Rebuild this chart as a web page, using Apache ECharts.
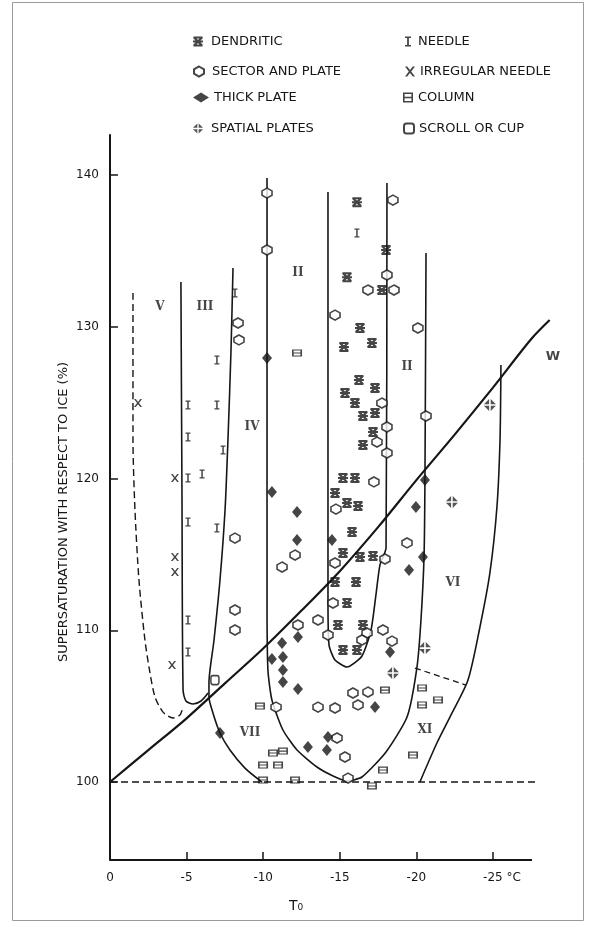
<!DOCTYPE html>
<html><head><meta charset="utf-8">
<script src="https://cdn.jsdelivr.net/npm/echarts@6/dist/echarts.min.js"></script>
<style>html,body{margin:0;padding:0;background:#fff}#c{width:595px;height:927px}</style>
</head><body><div id="c"></div>
<script>
// ---- tick values ----
const xTicks = [0, -5, -10, -15, -20, -25];
const yTicks = [100, 110, 120, 130, 140];
const xAxisEnd = -27.55;   // where the drawn temperature axis stops
const yAxisMin = 94.86;

// ---- observations [temperature °C, supersaturation %] ----
const dendritic = [[-16.12,138.22],[-18.02,135.07],[-15.47,133.28],[-17.75,132.43],[-16.32,129.93],[-17.10,128.94],[-15.27,128.68],[-16.25,126.50],[-17.30,125.97],[-15.34,125.64],[-15.99,124.98],[-16.51,124.13],[-17.30,124.32],[-17.17,123.07],[-16.51,122.22],[-15.21,120.04],[-15.99,120.04],[-14.69,119.05],[-15.47,118.39],[-16.19,118.19],[-15.80,116.48],[-15.21,115.10],[-16.32,114.83],[-17.17,114.90],[-14.69,113.18],[-16.06,113.18],[-15.47,111.80],[-14.88,110.35],[-16.51,110.35],[-15.21,108.70],[-16.12,108.70]];
const sectorPlate = [[-10.25,138.82],[-10.25,135.07],[-18.47,138.36],[-18.08,133.42],[-16.84,132.43],[-18.54,132.43],[-14.69,130.78],[-20.10,129.93],[-20.63,124.13],[-17.75,124.98],[-18.08,123.40],[-17.43,122.41],[-18.08,121.69],[-17.23,119.78],[-14.75,117.99],[-8.36,130.26],[-8.42,129.14],[-8.16,116.08],[-8.16,111.34],[-8.16,110.02],[-19.39,115.76],[-17.95,114.70],[-12.08,114.96],[-11.23,114.17],[-14.69,114.44],[-14.56,111.80],[-13.58,110.68],[-12.27,110.35],[-14.23,109.69],[-16.78,109.82],[-16.45,109.36],[-17.82,110.02],[-18.41,109.29],[-15.86,105.87],[-16.84,105.93],[-16.19,105.08],[-13.58,104.94],[-14.69,104.88],[-10.84,104.94],[-14.82,102.90],[-15.34,101.65],[-15.54,100.26]];
const thickPlate = [[-10.25,127.95],[-10.57,119.12],[-12.21,117.80],[-20.56,119.91],[-19.97,118.13],[-12.21,115.95],[-14.49,115.95],[-20.43,114.83],[-19.52,113.98],[-12.27,109.56],[-11.23,109.16],[-10.57,108.11],[-11.29,108.24],[-11.29,107.38],[-11.29,106.59],[-18.28,108.57],[-12.27,106.13],[-17.30,104.94],[-14.23,102.97],[-12.92,102.31],[-14.16,102.11],[-7.18,103.23]];
const spatialPlates = [[-22.32,118.46],[-24.80,124.85],[-20.56,108.83],[-18.47,107.19]];
const needle = [[-8.16,132.23],[-6.98,127.82],[-5.09,124.85],[-6.98,124.85],[-5.09,122.74],[-7.38,121.89],[-5.09,120.04],[-6.01,120.30],[-5.09,117.14],[-6.98,116.74],[-5.09,110.68],[-5.09,108.57],[-16.12,136.19]];
const irregularNeedle = [[-1.83,124.98],[-4.24,120.04],[-4.24,114.83],[-4.24,113.84],[-4.05,107.71]];
const column = [[-12.21,128.28],[-9.79,105.01],[-17.95,106.06],[-20.37,106.20],[-20.37,105.08],[-21.41,105.41],[-10.64,101.91],[-11.29,102.04],[-9.99,101.12],[-10.97,101.12],[-19.78,101.78],[-17.82,100.79],[-9.99,100.13],[-12.08,100.13],[-17.10,99.74]];
const scrollCup = [[-6.85,106.72]];

// ---- boundary curves ----
const waterSat = [[0,100],[-2.5,102.1],[-5,104.2],[-7.5,106.5],[-10,108.8],[-12.5,111.3],[-15,113.9],[-17.5,116.8],[-20,119.9],[-22.5,122.9],[-25,126.0],[-27.5,129.2],[-28.7,130.45]];
const iceSat = [[0,100],[-27.9,100]];
const curveA = [[-1.50,132.23],[-1.50,122.54],[-1.63,117.93],[-1.89,113.32],[-2.28,109.36],[-2.61,107.19],[-2.94,105.60],[-3.46,104.61],[-4.11,104.22],[-4.57,104.42],[-4.77,104.94]];
const curveB = [[-4.63,132.96],[-4.70,118.59],[-4.77,106.06],[-4.96,105.34],[-5.42,105.14],[-5.94,105.34],[-6.40,105.87]];
const curveC = [[-8.03,133.88],[-7.90,128.48],[-7.70,122.54],[-7.51,117.93],[-7.18,113.32],[-6.79,109.36],[-6.46,106.53],[-6.46,105.60],[-6.72,104.55],[-7.18,103.23],[-7.83,102.11],[-8.81,100.92],[-9.92,100]];
const curveD = [[-10.25,139.82],[-10.25,112.0],[-10.31,107.38],[-10.57,105.41],[-11.29,103.43],[-12.21,102.11],[-13.51,100.99],[-14.56,100.40],[-15.47,100.07],[-16.45,100.33],[-18.02,101.98],[-19.39,104.28],[-20.04,107.58],[-20.30,110.68],[-20.50,114.83],[-20.56,119.91],[-20.63,134.87]];
const curveE = [[-14.23,138.89],[-14.23,112.0],[-14.30,109.03],[-14.69,108.04],[-15.47,107.58],[-16.45,108.31],[-17.04,110.02],[-17.36,112.33],[-17.62,114.30],[-18.02,115.43],[-18.08,139.49]];
const curveF = [[-25.52,127.49],[-25.46,122.54],[-25.26,118.13],[-24.80,113.78],[-24.15,110.22],[-23.37,106.72],[-22.19,104.28],[-21.34,102.57],[-20.23,100]];
const curveG = [[-19.91,107.51],[-23.24,106.39]];

// ---- region labels ----
const regionNames = ['V','III','IV','II','II','VI','VII','XI'];
const regionPos = [[-3.26,131.31],[-6.20,131.31],[-9.27,123.40],[-12.27,133.55],[-19.39,127.36],[-22.39,113.12],[-9.14,103.23],[-20.56,103.43]];
const curveLabel = ['W'];
const curveLabelPos = [[-28.92,128.02]];

const FONT = 'DejaVu Sans';
const INK = '#161616';

const SYM = {
  star: 'path://M0.5,0H9.5V2H0.5Z M0.5,8H9.5V10H0.5Z M0,4H10V6H0Z M0,1.6L1.6,0L10,8.4L8.4,10Z M8.4,0L10,1.6L1.6,10L0,8.4Z',
  hex: 'path://M5,0L10,2.8L10,7.2L5,10L0,7.2L0,2.8Z',
  spatial: 'path://M4.4,0.6L4.4,4.4L0.6,4.4Z M5.6,0.6L9.4,4.4L5.6,4.4Z M0.6,5.6L4.4,5.6L4.4,9.4Z M5.6,5.6L9.4,5.6L5.6,9.4Z',
  needle: 'path://M2,0H8V1.4H5.9V8.6H8V10H2V8.6H4.1V1.4H2Z',
  xmark: 'path://M0,0H2.2L5,3.6L7.8,0H10L6.2,5L10,10H7.8L5,6.4L2.2,10H0L3.8,5Z',
  column: 'path://M0,0H10V1.6H0Z M0,4.2H10V5.8H0Z M0,8.4H10V10H0Z M0,0H1.6V10H0Z M8.4,0H10V10H8.4Z'
};

function pts(name, data, symbol, size, style) {
  return { name, type: 'scatter', data, symbol, symbolSize: size, itemStyle: style, z: 5, silent: true };
}
function curve(name, data, opts) {
  return Object.assign({ name, type: 'line', data, symbol: 'none', smooth: 0.25, silent: true, z: 3,
    lineStyle: { color: INK, width: 1.6 } }, opts || {});
}
function textSeries(name, names, pos, font, size) {
  return { name, type: 'scatter', silent: true, clip: false, symbolSize: 1, itemStyle: { color: 'rgba(0,0,0,0)' }, z: 6,
    data: names.map((n, i) => ({ name: n, value: pos[i] })),
    label: { show: true, position: 'inside', formatter: p => p.name,
      fontFamily: font, fontSize: size, fontWeight: 'bold', color: INK } };
}

const chart = echarts.init(document.getElementById('c'), null, { renderer: 'canvas' });
const legendBase = { padding: 0, itemHeight: 10, selectedMode: false,
  textStyle: { fontFamily: FONT, fontSize: 13, color: INK } };
const option = {
  animation: false,
  backgroundColor: '#fff',
  grid: { left: 110, right: 37.7, top: 135, bottom: 67 },
  xAxis: {
    type: 'value', inverse: true, min: -29.2, max: 0,
    axisLine: { show: false },
    axisTick: { inside: true, length: 8, customValues: xTicks, lineStyle: { color: INK, width: 1.5 } },
    axisLabel: { customValues: xTicks, margin: 12, fontFamily: FONT, fontSize: 12, color: INK,
      formatter: v => v === -25 ? '{u|-25 °C}' : String(v),
      rich: { u: { padding: [0, 0, 0, 18], fontFamily: FONT, fontSize: 12, color: INK } } },
    splitLine: { show: false }
  },
  yAxis: {
    type: 'value', min: yAxisMin, max: 142.65,
    axisLine: { show: true, lineStyle: { color: INK, width: 2 } },
    axisTick: { show: true, inside: true, length: 8, customValues: yTicks, lineStyle: { color: INK, width: 1.5 } },
    axisLabel: { customValues: yTicks, margin: 11, fontFamily: FONT, fontSize: 12, color: INK },
    splitLine: { show: false }
  },
  legend: [
    Object.assign({ data: ['DENDRITIC'], left: 193, top: 35, itemWidth: 16 }, legendBase),
    Object.assign({ data: ['SECTOR AND PLATE'], left: 193, top: 65, itemWidth: 16 }, legendBase),
    Object.assign({ data: ['THICK PLATE'], left: 193, top: 91, itemWidth: 16 }, legendBase),
    Object.assign({ data: ['SPATIAL PLATES'], left: 193, top: 122, itemWidth: 16 }, legendBase),
    Object.assign({ data: ['NEEDLE'], left: 405, top: 35, itemWidth: 10 }, legendBase),
    Object.assign({ data: ['IRREGULAR NEEDLE'], left: 405, top: 65, itemWidth: 10 }, legendBase),
    Object.assign({ data: ['COLUMN'], left: 403, top: 91, itemWidth: 10 }, legendBase),
    Object.assign({ data: ['SCROLL OR CUP'], left: 403, top: 122, itemWidth: 10 }, legendBase)
  ],
  graphic: [
    { type: 'rect', shape: { x: 12.5, y: 2.5, width: 571, height: 918 }, style: { fill: 'none', stroke: '#9a9a9a', lineWidth: 1 }, silent: true },
    { type: 'text', x: 64, y: 512, rotation: Math.PI / 2,
      style: { text: 'SUPERSATURATION WITH RESPECT TO ICE (%)', fontFamily: FONT, fontSize: 13, fill: INK, align: 'center', verticalAlign: 'middle' } },
    { type: 'text', x: 296, y: 906,
      style: { text: 'T₀', fontFamily: FONT, fontSize: 14, fill: INK, align: 'center', verticalAlign: 'middle' } }
  ],
  series: [
    curve('tempAxis', [[0, yAxisMin], [xAxisEnd, yAxisMin]], { smooth: false, clip: false, z: 4, lineStyle: { color: INK, width: 2 } }),
    curve('waterSat', waterSat, { lineStyle: { color: INK, width: 2.2 }, smooth: 0.3, clip: false }),
    curve('iceSat', iceSat, { smooth: false, clip: false, lineStyle: { color: INK, width: 1.4, type: [7, 4] } }),
    curve('A', curveA, { lineStyle: { color: INK, width: 1.4, type: [7, 4] } }),
    curve('B', curveB),
    curve('C', curveC),
    curve('D', curveD, { smooth: 0.2 }),
    curve('E', curveE, { smooth: 0.2 }),
    curve('F', curveF),
    curve('G', curveG, { smooth: false, lineStyle: { color: INK, width: 1.3, type: [6, 4] } }),
    pts('DENDRITIC', dendritic, SYM.star, 10, { color: INK }),
    pts('SECTOR AND PLATE', sectorPlate, SYM.hex, 10, { color: '#fff', borderColor: INK, borderWidth: 1.6 }),
    pts('THICK PLATE', thickPlate, 'diamond', [10, 12], { color: INK }),
    pts('SPATIAL PLATES', spatialPlates, SYM.spatial, 12, { color: '#2a2a2a' }),
    pts('NEEDLE', needle, SYM.needle, [5, 9], { color: INK }),
    pts('IRREGULAR NEEDLE', irregularNeedle, SYM.xmark, 8, { color: INK }),
    pts('COLUMN', column, SYM.column, [10, 7], { color: INK }),
    pts('SCROLL OR CUP', scrollCup, 'roundRect', [8, 9], { color: '#fff', borderColor: INK, borderWidth: 1.6 }),
    textSeries('regions', regionNames, regionPos, '"DejaVu Serif"', 12),
    textSeries('curveLabels', curveLabel, curveLabelPos, FONT, 13)
  ]
};
chart.setOption(option);
</script></body></html>
